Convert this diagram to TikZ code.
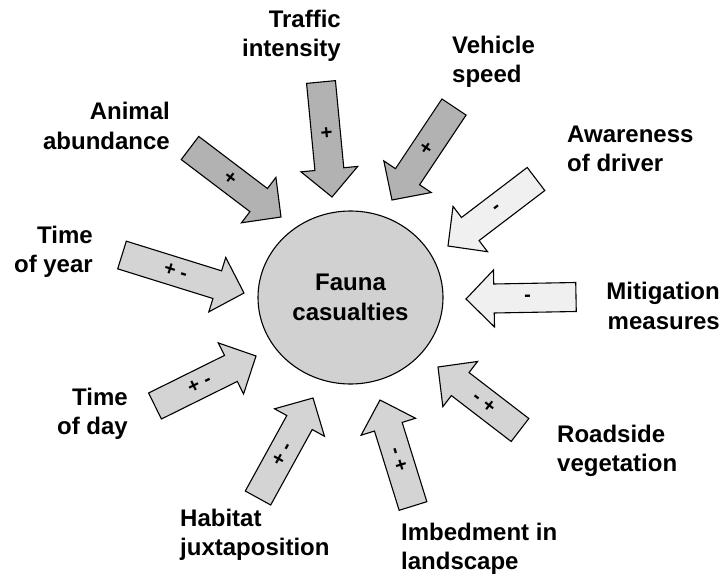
\documentclass[tikz,border=0pt]{standalone}
\usepackage{fontspec}
\setmainfont{Liberation Sans}
\usetikzlibrary{calc,shapes.geometric}

\definecolor{darkfill}{gray}{0.70}
\definecolor{midfill}{gray}{0.83}
\definecolor{lightfill}{gray}{0.94}
\definecolor{circfill}{gray}{0.82}

% block arrow: style, tail, tip, sign
\newcommand{\fatarrow}[4]{%
	\coordinate (hb) at ($(#3)!28pt!(#2)$);
	\draw[#1] ($(#2)!14.5pt!90:(#3)$) -- ($(hb)!14.5pt!90:(#3)$) -- ($(hb)!28.5pt!90:(#3)$) -- (#3)
		-- ($(hb)!28.5pt!-90:(#3)$) -- ($(hb)!14.5pt!-90:(#3)$) -- ($(#2)!14.5pt!-90:(#3)$) -- cycle;
	\path (#2) -- node[signlabel, pos=.44, sloped] {#4} (#3);
}

\begin{document}
\begin{tikzpicture}[x=1pt, y=-1pt,
	factor/.style={inner sep=0pt, font=\fontsize{24}{29.5}\selectfont\bfseries},
	signlabel/.style={inner sep=0pt, font=\fontsize{20}{20}\selectfont\bfseries},
	darkarrow/.style={draw=black, line width=1.1pt, line join=miter, fill=darkfill},
	midarrow/.style={draw=black, line width=1.1pt, line join=miter, fill=midfill},
	lightarrow/.style={draw=black, line width=1.1pt, line join=miter, fill=lightfill}]

	\useasboundingbox (0,0) rectangle (723,578);

	% centre
	\node[ellipse, draw=black, line width=1.1pt, fill=circfill, minimum width=185pt, minimum height=173pt,
		align=center, font=\fontsize{24}{29.5}\selectfont\bfseries] (fauna) at (350.5,297.5) {Fauna\\casualties};

	% factors
	\node[factor, anchor=east, align=right] (traffic) at (341,36) {Traffic\\intensity};
	\node[factor, anchor=west, align=left] (speed) at (452,62) {Vehicle\\speed};
	\node[factor, anchor=east, align=right] (animal) at (170,126) {Animal\\abundance};
	\node[factor, anchor=west, align=left] (aware) at (567,149) {Awareness\\of driver};
	\node[factor, anchor=east, align=right] (year) at (93,252) {Time\\of year};
	\node[factor, anchor=east, align=right] (mitig) at (720,306) {Mitigation\\measures};
	\node[factor, anchor=east, align=right] (day) at (128,414) {Time\\of day};
	\node[factor, anchor=west, align=left] (road) at (557,451) {Roadside\\vegetation};
	\node[factor, anchor=west, align=left] (habitat) at (180,535) {Habitat\\juxtaposition};
	\node[factor, anchor=west, align=left] (imbed) at (401,549) {Imbedment in\\landscape};

	% tails and tips
	\coordinate (t1) at (321,82);   \coordinate (h1) at (332,197);
	\coordinate (t2) at (190,148);  \coordinate (h2) at (281,217);
	\coordinate (t3) at (454,107);  \coordinate (h3) at (392,200);
	\coordinate (t4) at (536,179);  \coordinate (h4) at (448,246);
	\coordinate (t5) at (576,297);  \coordinate (h5) at (466,299);
	\coordinate (t6) at (122,255);  \coordinate (h6) at (244,293);
	\coordinate (t7) at (155,406);  \coordinate (h7) at (256,356);
	\coordinate (t8) at (258,498);  \coordinate (h8) at (313,398);
	\coordinate (t9) at (413,506);  \coordinate (h9) at (380,400);
	\coordinate (t10) at (520,430); \coordinate (h10) at (438,367);

	\fatarrow{darkarrow}{t1}{h1}{+}
	\fatarrow{darkarrow}{t2}{h2}{+}
	\fatarrow{darkarrow}{t3}{h3}{+}
	\fatarrow{lightarrow}{t4}{h4}{-}
	\fatarrow{lightarrow}{t5}{h5}{-}
	\fatarrow{midarrow}{t6}{h6}{+ -}
	\fatarrow{midarrow}{t7}{h7}{+ -}
	\fatarrow{midarrow}{t8}{h8}{+ -}
	\fatarrow{midarrow}{t9}{h9}{- +}
	\fatarrow{midarrow}{t10}{h10}{- +}

\end{tikzpicture}
\end{document}
